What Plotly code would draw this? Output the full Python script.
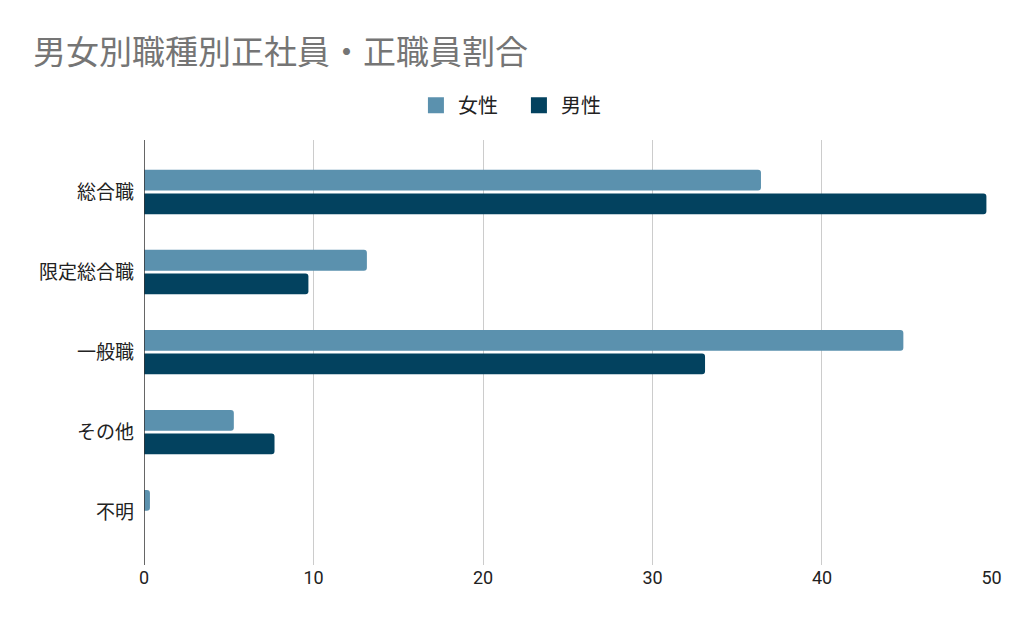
import plotly.graph_objects as go

categories = ["総合職", "限定総合職", "一般職", "その他", "不明"]
female = [36.4, 13.15, 44.8, 5.3, 0.35]
male = [49.7, 9.7, 33.1, 7.7, 0]
series_names = ["女性", "男性"]
colors = ["#5b91ae", "#03425f"]
xticks = [0, 10, 20, 30, 40, 50]

font_family = "Roboto, Noto Sans CJK JP, sans-serif"

fig = go.Figure()
for name, vals, c in zip(series_names, [female, male], colors):
    fig.add_trace(go.Bar(y=categories, x=vals, name=name, orientation="h",
                         showlegend=False,
                         marker=dict(color=c, line=dict(width=0))))
for name, c in zip(series_names, colors):
    fig.add_trace(go.Scatter(x=[None], y=[None], mode="markers", name=name,
                             marker=dict(symbol="square", size=20, color=c)))

fig.update_layout(
    width=1024, height=633,
    barmode="group", bargap=0.41, bargroupgap=0.12, barcornerradius=3,
    plot_bgcolor="white", paper_bgcolor="white",
    margin=dict(l=136, r=40, t=132, b=76, autoexpand=False),
    font=dict(family=font_family, color="#222222", size=18),
    title=dict(text="男女別職種別正社員・正職員割合", x=0.0244, xanchor="left",
               y=0.930, yanchor="middle",
               font=dict(size=33, color="#757575", family=font_family)),
    legend=dict(orientation="h", x=0.497, xref="container", xanchor="center",
                y=1.082, yanchor="middle",
                font=dict(size=20, color="#222222"), traceorder="normal",
                itemwidth=34, entrywidth=54, entrywidthmode="pixels"),
    xaxis=dict(range=[0, 50.03], tickvals=xticks, showgrid=True, gridcolor="#cccccc",
               gridwidth=1, zeroline=False, showline=False, ticks="",
               automargin=False,
               tickfont=dict(size=18, color="#222222")),
    yaxis=dict(type="category", range=[4.66, -0.65], showgrid=False, zeroline=False,
               showline=False, ticks="", ticklabelstandoff=9, automargin=False,
               tickfont=dict(size=19, color="#222222")),
    shapes=[dict(type="line", xref="x", yref="paper", x0=0, x1=0, y0=0, y1=1,
                 line=dict(color="#333333", width=1.5))],
)

fig.write_html("out.html")
